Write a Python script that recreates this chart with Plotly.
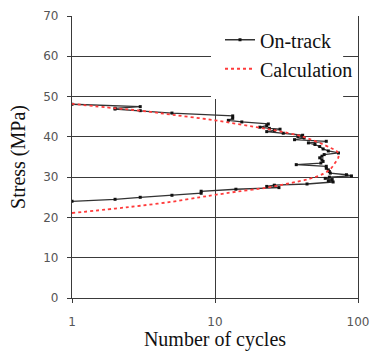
import plotly.graph_objects as go

# On-track measured distribution (stress level vs. number of cycles)
ontrack_stress = [24.0, 24.5, 25.0, 25.5, 26.0, 26.5, 27.0, 27.4, 27.7, 28.0,
                  28.3, 28.8, 29.1, 29.4, 29.7, 30.0, 30.3, 30.6, 31.0, 31.4,
                  31.8, 32.2, 32.7, 33.1, 33.5, 33.9, 34.3, 34.8, 35.2, 35.6,
                  36.0, 36.5, 37.0, 37.6, 38.1, 38.5, 38.9, 39.3, 39.7, 40.1,
                  40.4, 40.9, 41.3, 41.6, 41.9, 42.1, 42.4, 42.8, 43.2, 43.7,
                  44.1, 44.6, 45.2, 45.9, 46.5, 46.9, 47.1, 47.5, 48.1]
ontrack_cycles = [1, 2, 3, 5, 8, 8, 14, 28, 23, 26,
                  44, 67, 62, 66, 59, 63, 90, 83, 64, 63,
                  62, 60, 60, 37, 55, 57, 56, 54, 56, 58,
                  73, 62, 57, 54, 50, 45, 60, 36, 42, 38,
                  41, 30, 23, 26, 28.5, 24, 20.6, 23, 23.6, 15.4,
                  12.4, 13.3, 13.3, 5, 3, 2, 2, 3, 1]

# Calculated distribution
calc_stress = [21.1, 22.2, 22.9, 23.9, 25.0, 25.6, 26.4, 27.4, 28.5, 29.6,
               30.8, 32.0, 33.5, 35.0, 36.2, 37.3, 39.7, 40.9, 42.4, 44.1,
               45.5, 46.5, 47.1, 48.2]
calc_cycles = [1, 2, 3, 5, 7.8, 10, 14.2, 23, 33.4, 46,
               57, 64, 69, 73, 72, 64, 44, 33, 19.5, 10,
               5, 3, 2, 1]

x_ticks = [1, 10, 100]
y_ticks = [0, 10, 20, 30, 40, 50, 60, 70]

serif = "Liberation Serif, Times New Roman, serif"
sans = "DejaVu Sans, Verdana, sans-serif"
grid = "#3a3a3a"

fig = go.Figure()
fig.add_trace(go.Scatter(
    x=ontrack_cycles, y=ontrack_stress, name="On-track", mode="lines+markers",
    line=dict(color="#333333", width=1.3),
    marker=dict(symbol="square", size=3, color="#111111"),
))
fig.add_trace(go.Scatter(
    x=calc_cycles, y=calc_stress, name="Calculation", mode="lines",
    line=dict(color="#ff3b3b", width=1.8, dash="dot", shape="spline", smoothing=1.0),
))

# white legend backdrop (hides the grid behind the legend, as in the original)
fig.add_shape(type="rect", xref="paper", yref="paper",
              x0=0.486, x1=0.948, y0=0.706, y1=1.01,
              fillcolor="white", line=dict(width=0), layer="above")

fig.update_layout(
    width=374, height=351,
    margin=dict(l=72, r=16, t=16, b=53),
    paper_bgcolor="white", plot_bgcolor="white",
    showlegend=True,
    legend=dict(x=1.0, y=0.985, xanchor="right", yanchor="top",
                bgcolor="rgba(0,0,0,0)", borderwidth=0,
                font=dict(family=serif, size=20, color="#111111"),
                tracegroupgap=0, itemwidth=30),
    xaxis=dict(type="log", range=[0, 2], tickvals=x_ticks,
               ticktext=[str(v) for v in x_ticks],
               showgrid=True, gridcolor=grid, gridwidth=1.2,
               showline=True, linecolor=grid, linewidth=1.2,
               ticks="outside", ticklen=4, tickcolor=grid,
               tickfont=dict(family=sans, size=12, color="#555555"),
               ticklabelstandoff=8, automargin=False,
               title=dict(text="Number of cycles", standoff=6,
                          font=dict(family=serif, size=20, color="#111111")),
               zeroline=False),
    yaxis=dict(range=[0, 70], tickvals=y_ticks,
               showgrid=True, gridcolor=grid, gridwidth=1.2,
               showline=True, linecolor=grid, linewidth=1.2, mirror=True,
               ticks="outside", ticklen=4, tickcolor=grid,
               tickfont=dict(family=sans, size=12, color="#555555"),
               ticklabelstandoff=6, automargin=False,
               title=dict(text="Stress (MPa)", standoff=12,
                          font=dict(family=serif, size=20, color="#111111")),
               zeroline=False),
)

fig.write_html("out.html")
